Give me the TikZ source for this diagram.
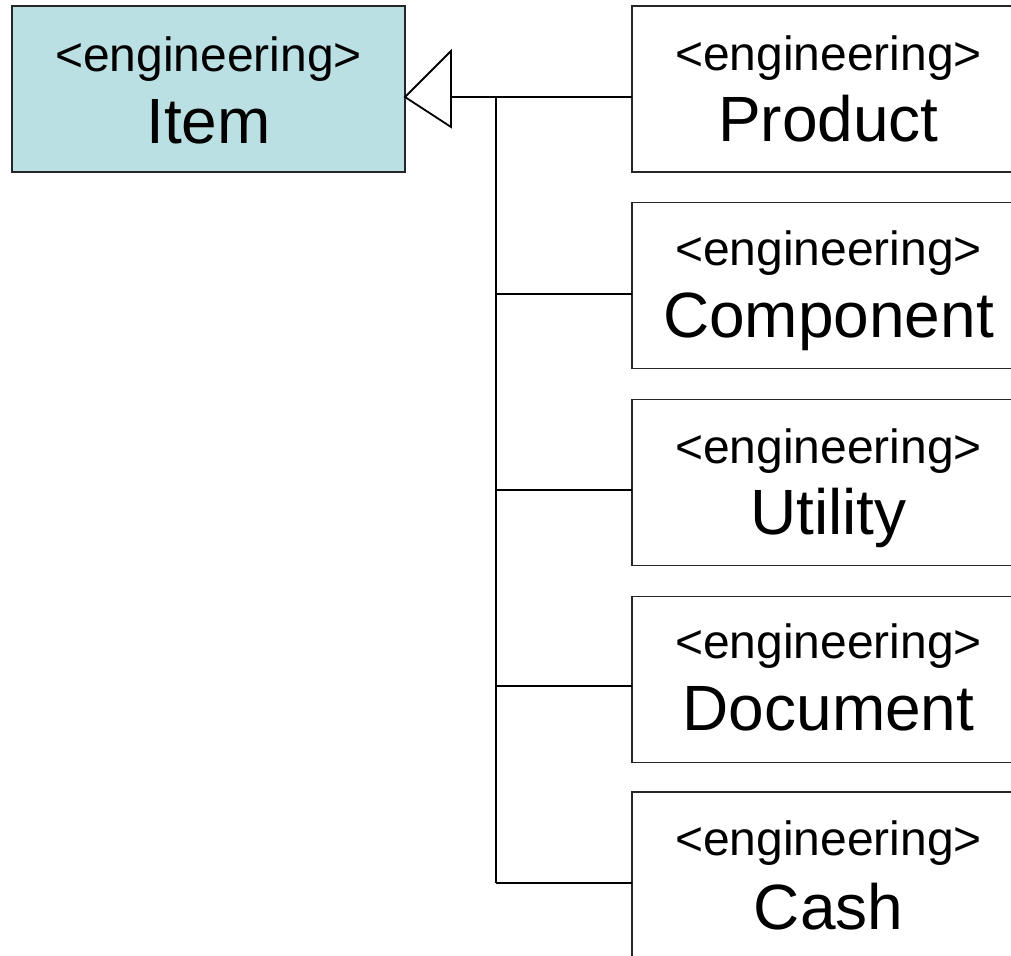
\documentclass[tikz,border=0pt]{standalone}
\usepackage{fontspec}
\setmainfont{Liberation Sans}
\begin{document}
\begin{tikzpicture}[x=1pt,y=-1pt,
  box/.style={draw=black!85,line width=1.8pt,minimum width=393pt,minimum height=166pt,inner sep=0pt,outer sep=0pt},
  stereo/.style={anchor=base,inner sep=0pt,font=\fontsize{48}{50}\selectfont},
  cname/.style={anchor=base,inner sep=0pt,font=\fontsize{64}{66}\selectfont},
  conn/.style={draw=black,line width=1.8pt}]
\useasboundingbox (0,0) rectangle (1011,955);
\clip (0,0) rectangle (1011,955);
% boxes
\node[box,fill={rgb,255:red,187;green,224;blue,227}] (item) at (208.5,89) {};
\node[box] (prod) at (828.5,89) {};
\node[box] (comp) at (828.5,285.5) {};
\node[box] (util) at (828.5,482.5) {};
\node[box] (doc)  at (828.5,679.5) {};
\node[box] (cash) at (828.5,875) {};
% texts
\node[stereo] (itemS) at (208.5,72) {<engineering>};
\node[cname]  (itemN) at (208.5,143) {Item};
\node[stereo] (prodS) at (828.5,71) {<engineering>};
\node[cname]  (prodN) at (828.5,141) {Product};
\node[stereo] (compS) at (828.5,265) {<engineering>};
\node[cname]  (compN) at (828.5,337) {Component};
\node[stereo] (utilS) at (828.5,463) {<engineering>};
\node[cname]  (utilN) at (828.5,534) {Utility};
\node[stereo] (docS)  at (828.5,658) {<engineering>};
\node[cname]  (docN)  at (828.5,730) {Document};
\node[stereo] (cashS) at (828.5,855) {<engineering>};
\node[cname]  (cashN) at (828.5,929) {Cash};
% connector coordinates
\coordinate (tip) at (405,97);
\coordinate (tb1) at (451,51);
\coordinate (tb2) at (451,127);
\coordinate (tbase) at (451,97);
\coordinate (j0) at (496,97);
\coordinate (j1) at (496,294);
\coordinate (j2) at (496,490);
\coordinate (j3) at (496,686);
\coordinate (j4) at (496,883);
% connectors
\draw[conn] (tbase) -- (prod.west |- tbase);
\draw[conn] (j0) -- (j4);
\draw[conn] (j1) -- (comp.west |- j1);
\draw[conn] (j2) -- (util.west |- j2);
\draw[conn] (j3) -- (doc.west |- j3);
\draw[conn] (j4) -- (cash.west |- j4);
\draw[conn,fill=white,line join=miter] (tip) -- (tb1) -- (tb2) -- cycle;
\end{tikzpicture}
\end{document}
